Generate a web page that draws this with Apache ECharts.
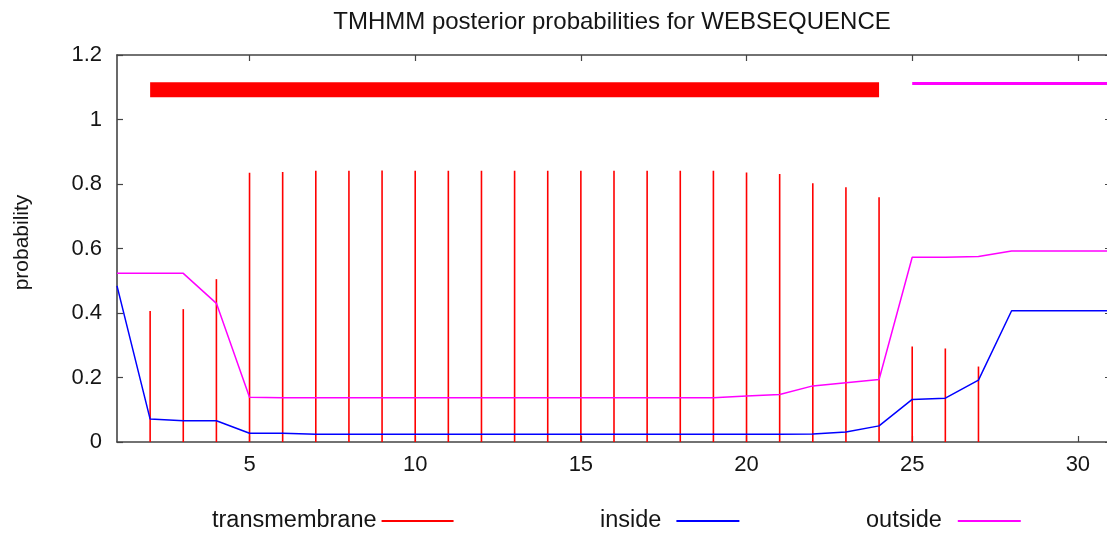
<!DOCTYPE html>
<html>
<head>
<meta charset="utf-8">
<title>TMHMM posterior probabilities</title>
<script src="https://cdn.jsdelivr.net/npm/echarts@6/dist/echarts.min.js"></script>
<style>
  html, body { margin: 0; padding: 0; background: #ffffff; }
  #chart { width: 1107px; height: 533px; }
</style>
</head>
<body>
<div id="chart"></div>
<script>
// Residue positions along the sequence
const positions = [1, 2, 3, 4, 5, 6, 7, 8, 9, 10, 11, 12, 13, 14, 15, 16,
  17, 18, 19, 20, 21, 22, 23, 24, 25, 26, 27, 28, 29, 30, 31];

// Posterior probability per residue for each state
const transmembrane = [0, 0.406, 0.412, 0.505, 0.835, 0.837, 0.841, 0.841, 0.842,
  0.841, 0.841, 0.841, 0.841, 0.841, 0.841, 0.841, 0.841, 0.841, 0.841, 0.836,
  0.831, 0.802, 0.790, 0.759, 0.296, 0.290, 0.234, 0, 0, 0, 0];
const inside = [0.484, 0.071, 0.066, 0.066, 0.027, 0.027, 0.024, 0.024, 0.024,
  0.024, 0.024, 0.024, 0.024, 0.024, 0.024, 0.024, 0.024, 0.024, 0.024, 0.024,
  0.024, 0.025, 0.031, 0.050, 0.132, 0.136, 0.192, 0.407, 0.407, 0.407, 0.407];
const outside = [0.523, 0.523, 0.523, 0.430, 0.139, 0.137, 0.137, 0.137, 0.137,
  0.137, 0.137, 0.137, 0.137, 0.137, 0.137, 0.137, 0.137, 0.137, 0.137, 0.143,
  0.147, 0.174, 0.184, 0.194, 0.573, 0.573, 0.575, 0.592, 0.592, 0.592, 0.592];

// Predicted topology segments drawn above the curves: [start, end, level]
const tmSegment = [2, 24, 1.092];
const outsideSegment = [25, 31, 1.112];

// Axis ticks
const xTicks = [5, 10, 15, 20, 25, 30];
const xRange = [1, 31];
const yRange = [0, 1.2];
const yStep = 0.2;

const FONT = 'Liberation Sans, Arial, sans-serif';
const TEXT = '#151515';
const AXIS = '#444444';
const RED = '#ff0000';
const BLUE = '#0000ff';
const MAGENTA = '#ff00ff';

const pairs = (ys) => positions.map((x, i) => [x, ys[i]]);

const frameX = (extra) => Object.assign({
  type: 'value',
  min: xRange[0],
  max: xRange[1],
  splitLine: { show: false },
  axisLine: { show: true, onZero: false, lineStyle: { color: AXIS, width: 1.6 } },
  axisTick: { show: true, inside: true, length: 6, customValues: xTicks,
    lineStyle: { color: AXIS, width: 1.2 } },
  axisLabel: { show: false }
}, extra);

const frameY = (extra) => Object.assign({
  type: 'value',
  min: yRange[0],
  max: yRange[1],
  interval: yStep,
  splitLine: { show: false },
  axisLine: { show: true, onZero: false, lineStyle: { color: AXIS, width: 1.6 } },
  axisTick: { show: true, inside: true, length: 6,
    lineStyle: { color: AXIS, width: 1.2 } },
  axisLabel: { show: false }
}, extra);

// One key entry: label text followed by a short line sample
const legendFor = (name, left, width, gap) => ({
  data: [name],
  left: left,
  top: 504,
  orient: 'horizontal',
  align: 'right',
  icon: 'rect',
  itemWidth: width,
  itemHeight: 2,
  selectedMode: false,
  textStyle: { fontFamily: FONT, fontSize: 23.5, color: TEXT, padding: [0, gap, 0, 0] }
});

// Vertical impulse from the baseline up to the value at each position
function impulse(params, api) {
  const x = api.value(0);
  const base = api.coord([x, 0]);
  const top = api.coord([x, api.value(1)]);
  return {
    type: 'line',
    shape: { x1: base[0], y1: base[1], x2: top[0], y2: top[1] },
    style: { stroke: RED, lineWidth: 1.6 }
  };
}

const chart = echarts.init(document.getElementById('chart'), null, { renderer: 'canvas' });

chart.setOption({
  animation: false,
  backgroundColor: '#ffffff',
  title: {
    text: 'TMHMM posterior probabilities for WEBSEQUENCE',
    left: 607,
    textAlign: 'center',
    top: 5,
    textStyle: { fontFamily: FONT, fontSize: 24, fontWeight: 'normal', color: TEXT }
  },
  grid: { left: 117, top: 55, width: 994, height: 387, containLabel: false,
    outerBoundsMode: 'none' },
  legend: [
    legendFor('transmembrane', 207, 72, 0),
    legendFor('inside', 595, 63, 10),
    legendFor('outside', 861, 63, 11)
  ],
  xAxis: [
    frameX({
      position: 'bottom',
      axisLabel: { show: true, customValues: xTicks, margin: 12,
        fontFamily: FONT, fontSize: 22, color: TEXT }
    }),
    frameX({ position: 'top' })
  ],
  yAxis: [
    frameY({
      position: 'left',
      name: 'probability',
      nameLocation: 'middle',
      nameRotate: 90,
      nameGap: 84,
      nameTextStyle: { fontFamily: FONT, fontSize: 21, color: TEXT, padding: [0, 0, 0, 12] },
      axisLabel: { show: true, margin: 15, fontFamily: FONT, fontSize: 22, color: TEXT }
    }),
    frameY({ position: 'right' })
  ],
  series: [
    {
      name: 'transmembrane',
      type: 'custom',
      data: pairs(transmembrane),
      encode: { x: 0, y: 1 },
      renderItem: impulse,
      itemStyle: { color: RED },
      z: 2
    },
    {
      name: 'inside',
      type: 'line',
      data: pairs(inside),
      symbol: 'none',
      lineStyle: { color: BLUE, width: 1.5 },
      itemStyle: { color: BLUE },
      z: 3
    },
    {
      name: 'outside',
      type: 'line',
      data: pairs(outside),
      symbol: 'none',
      lineStyle: { color: MAGENTA, width: 1.5 },
      itemStyle: { color: MAGENTA },
      z: 3
    },
    {
      name: 'tm-region',
      type: 'line',
      data: [[tmSegment[0], tmSegment[2]], [tmSegment[1], tmSegment[2]]],
      symbol: 'none',
      lineStyle: { color: RED, width: 15, cap: 'butt' },
      z: 4
    },
    {
      name: 'outside-region',
      type: 'line',
      data: [[outsideSegment[0], outsideSegment[2]], [outsideSegment[1], outsideSegment[2]]],
      symbol: 'none',
      lineStyle: { color: MAGENTA, width: 3, cap: 'butt' },
      z: 4
    }
  ]
});
</script>
</body>
</html>
